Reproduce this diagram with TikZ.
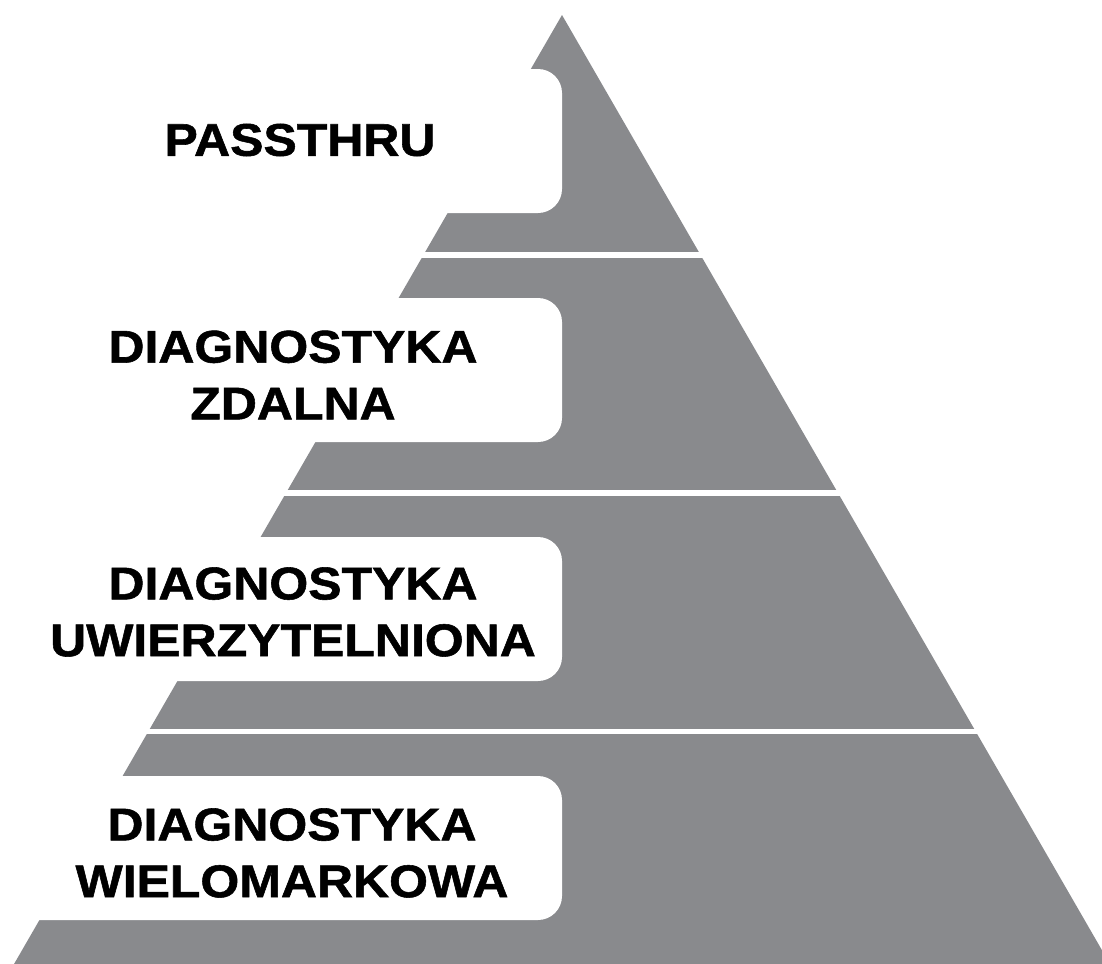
\documentclass[tikz,border=0pt]{standalone}
\usepackage{fontspec}
\newfontfamily\labelfont{Liberation Sans}[FakeStretch=1.09,FakeBold=1.2]
\definecolor{pyrgray}{RGB}{137,138,141}
\begin{document}
\begin{tikzpicture}[x=1bp,y=-1bp,
  band/.style={fill=pyrgray},
  card/.style={fill=white, rounded corners=24bp},
  lbl/.style={font=\labelfont\bfseries\fontsize{46}{57}\selectfont, align=center, text=black, inner sep=0pt}]
\useasboundingbox (0,0) rectangle (1102,964);
\begin{scope}
  \clip (562,15) -- (14.05,964) -- (1109.95,964) -- cycle;
  \fill[band] (0,0) rectangle (1102,252);
  \fill[band] (0,258) rectangle (1102,490);
  \fill[band] (0,496) rectangle (1102,729);
  \fill[band] (0,734) rectangle (1102,970);
\end{scope}
\fill[card] (-60,69) rectangle (562,213);
\fill[card] (-60,298) rectangle (562,442);
\fill[card] (-60,537) rectangle (562,681);
\fill[card] (-60,776) rectangle (562,920);
\node[lbl] (passthru) at (300,140) {PASSTHRU};
\node[lbl] (zdalna) at (293,375) {DIAGNOSTYKA\\ZDALNA};
\node[lbl] (uwierz) at (293,612) {DIAGNOSTYKA\\UWIERZYTELNIONA};
\node[lbl] (wielo) at (292,853) {DIAGNOSTYKA\\WIELOMARKOWA};
\end{tikzpicture}
\end{document}
